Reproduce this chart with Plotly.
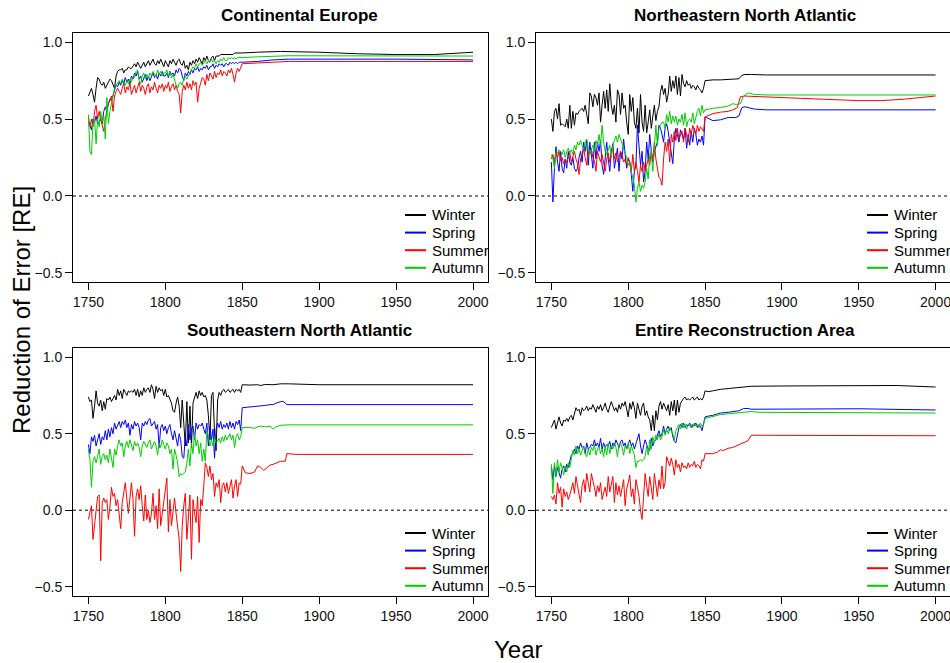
import plotly.graph_objects as go

# ---------------- data ----------------
YEARS_NOISY = list(range(1750, 1851))

# Continental Europe
ce_winter = [0.65, 0.68, 0.70, 0.66, 0.61, 0.70, 0.77, 0.76, 0.73, 0.72,
             0.74, 0.70, 0.72, 0.74, 0.76, 0.75, 0.72, 0.70, 0.78, 0.81,
             0.82, 0.82, 0.83, 0.80, 0.82, 0.82, 0.84, 0.83, 0.83, 0.85,
             0.86, 0.84, 0.87, 0.85, 0.83, 0.85, 0.87, 0.84, 0.86, 0.88,
             0.85, 0.87, 0.89, 0.86, 0.85, 0.88, 0.86, 0.89, 0.87, 0.84,
             0.88, 0.86, 0.84, 0.88, 0.86, 0.89, 0.87, 0.85, 0.88, 0.89,
             0.86, 0.85, 0.88, 0.83, 0.85, 0.82, 0.87, 0.85, 0.88, 0.86,
             0.89, 0.87, 0.90, 0.88, 0.86, 0.90, 0.88, 0.91, 0.88, 0.87,
             0.90, 0.91, 0.88, 0.91, 0.91, 0.91, 0.92, 0.92, 0.92, 0.92,
             0.92, 0.92, 0.92, 0.92, 0.92, 0.93, 0.93, 0.93, 0.93, 0.93,
             0.93]
ce_winter_tail_years = [1860, 1875, 1900, 1925, 1950, 1975, 2000]
ce_winter_tail = [0.935, 0.94, 0.935, 0.925, 0.92, 0.92, 0.935]

ce_spring = [0.48, 0.45, 0.43, 0.50, 0.48, 0.52, 0.47, 0.48, 0.50, 0.47,
             0.55, 0.58, 0.55, 0.60, 0.63, 0.62, 0.66, 0.70, 0.72, 0.71,
             0.74, 0.72, 0.75, 0.73, 0.77, 0.74, 0.76, 0.73, 0.78, 0.76,
             0.80, 0.78, 0.81, 0.76, 0.78, 0.74, 0.77, 0.79, 0.75, 0.78,
             0.75, 0.78, 0.80, 0.77, 0.79, 0.76, 0.80, 0.78, 0.81, 0.78,
             0.78, 0.80, 0.77, 0.81, 0.79, 0.80, 0.78, 0.82, 0.80, 0.83,
             0.82, 0.78, 0.75, 0.80, 0.78, 0.81, 0.79, 0.82, 0.80, 0.83,
             0.82, 0.84, 0.81, 0.83, 0.82, 0.84, 0.83, 0.85, 0.82, 0.84,
             0.84, 0.86, 0.83, 0.85, 0.84, 0.86, 0.85, 0.86, 0.84, 0.86,
             0.86, 0.85, 0.87, 0.86, 0.87, 0.86, 0.87, 0.86, 0.87, 0.87,
             0.87]
ce_spring_tail_years = [1860, 1870, 1880, 1950, 2000]
ce_spring_tail = [0.875, 0.885, 0.89, 0.89, 0.885]

ce_summer = [0.52, 0.45, 0.50, 0.45, 0.55, 0.59, 0.50, 0.55, 0.50, 0.45,
             0.42, 0.50, 0.55, 0.60, 0.62, 0.65, 0.55, 0.65, 0.68, 0.70,
             0.68, 0.66, 0.70, 0.73, 0.67, 0.71, 0.69, 0.74, 0.66, 0.70,
             0.72, 0.67, 0.71, 0.74, 0.68, 0.72, 0.70, 0.66, 0.71, 0.73,
             0.67, 0.71, 0.69, 0.74, 0.70, 0.67, 0.72, 0.70, 0.73, 0.68,
             0.72, 0.70, 0.74, 0.68, 0.71, 0.73, 0.69, 0.72, 0.68, 0.66,
             0.54, 0.68, 0.72, 0.69, 0.74, 0.70, 0.73, 0.69, 0.75, 0.72,
             0.74, 0.61, 0.70, 0.74, 0.77, 0.76, 0.72, 0.79, 0.75, 0.80,
             0.78, 0.76, 0.81, 0.77, 0.80, 0.79, 0.82, 0.78, 0.81, 0.80,
             0.78, 0.82, 0.80, 0.83, 0.79, 0.74, 0.80, 0.83, 0.81, 0.84,
             0.86]
ce_summer_tail_years = [1860, 1870, 1880, 2000]
ce_summer_tail = [0.865, 0.87, 0.875, 0.875]

ce_autumn = [0.53, 0.29, 0.27, 0.48, 0.50, 0.34, 0.50, 0.45, 0.55, 0.48,
             0.52, 0.37, 0.64, 0.47, 0.55, 0.60, 0.65, 0.70, 0.72, 0.74,
             0.75, 0.73, 0.76, 0.74, 0.72, 0.75, 0.73, 0.76, 0.74, 0.77,
             0.77, 0.81, 0.82, 0.75, 0.73, 0.78, 0.80, 0.76, 0.79, 0.77,
             0.80, 0.78, 0.81, 0.79, 0.78, 0.82, 0.79, 0.81, 0.78, 0.80,
             0.80, 0.82, 0.78, 0.81, 0.77, 0.79, 0.75, 0.72, 0.70, 0.73,
             0.74, 0.72, 0.76, 0.78, 0.76, 0.78, 0.80, 0.82, 0.84, 0.83,
             0.86, 0.84, 0.86, 0.87, 0.85, 0.87, 0.88, 0.86, 0.88, 0.87,
             0.89, 0.87, 0.88, 0.86, 0.88, 0.87, 0.89, 0.88, 0.90, 0.88,
             0.88, 0.90, 0.89, 0.90, 0.89, 0.90, 0.89, 0.90, 0.90, 0.90,
             0.90]
ce_autumn_tail_years = [1860, 1870, 1880, 2000]
ce_autumn_tail = [0.905, 0.91, 0.912, 0.91]

# Northeastern North Atlantic
ne_winter = [0.50, 0.42, 0.55, 0.57, 0.50, 0.60, 0.46, 0.47, 0.46, 0.45,
             0.50, 0.44, 0.59, 0.44, 0.55, 0.46, 0.54, 0.53, 0.55, 0.56,
             0.57, 0.55, 0.59, 0.53, 0.47, 0.67, 0.65, 0.58, 0.66, 0.64,
             0.59, 0.67, 0.48, 0.59, 0.68, 0.57, 0.69, 0.55, 0.73, 0.59,
             0.53, 0.59, 0.48, 0.69, 0.66, 0.53, 0.67, 0.57, 0.59, 0.48,
             0.40, 0.66, 0.55, 0.64, 0.48, 0.44, 0.57, 0.41, 0.66, 0.48,
             0.42, 0.59, 0.41, 0.48, 0.56, 0.44, 0.50, 0.59, 0.49, 0.55,
             0.58, 0.68, 0.72, 0.66, 0.70, 0.61, 0.66, 0.78, 0.68, 0.75,
             0.70, 0.78, 0.66, 0.77, 0.65, 0.79, 0.73, 0.71, 0.75, 0.72,
             0.73, 0.70, 0.72, 0.71, 0.69, 0.72, 0.70, 0.69, 0.67, 0.70,
             0.75]
ne_winter_tail_years = [1855, 1860, 1865, 1868, 1870, 1872, 1874, 1876, 1880, 1890, 2000]
ne_winter_tail = [0.755, 0.755, 0.757, 0.76, 0.758, 0.762, 0.785, 0.79, 0.79, 0.787, 0.787]

ne_spring = [0.22, -0.04, 0.18, 0.32, 0.22, 0.16, 0.29, 0.18, 0.15, 0.24,
             0.18, 0.29, 0.22, 0.20, 0.25, 0.18, 0.16, 0.18, 0.25, 0.29,
             0.22, 0.35, 0.29, 0.36, 0.20, 0.35, 0.27, 0.18, 0.35, 0.24,
             0.35, 0.29, 0.36, 0.20, 0.14, 0.27, 0.35, 0.24, 0.16, 0.29,
             0.34, 0.18, 0.24, 0.31, 0.16, 0.29, 0.24, 0.37, 0.27, 0.18,
             0.24, 0.22, 0.14, 0.03, 0.16, 0.20, 0.46, 0.33, 0.20, 0.29,
             0.09, 0.16, 0.35, 0.24, 0.40, 0.29, 0.22, 0.29, 0.33, 0.35,
             0.46, 0.44, 0.40, 0.35, 0.44, 0.47, 0.42, 0.35, 0.29, 0.21,
             0.37, 0.44, 0.40, 0.35, 0.43, 0.40, 0.37, 0.44, 0.31, 0.40,
             0.33, 0.42, 0.35, 0.44, 0.40, 0.33, 0.37, 0.35, 0.39, 0.33,
             0.515]
ne_spring_tail_years = [1855, 1860, 1865, 1870, 1872, 1874, 1876, 1878, 1882, 1890, 2000]
ne_spring_tail = [0.49, 0.495, 0.51, 0.51, 0.52, 0.575, 0.58, 0.575, 0.565, 0.56, 0.56]

ne_summer = [0.24, 0.27, 0.22, 0.28, 0.25, 0.29, 0.23, 0.25, 0.21, 0.24,
             0.22, 0.25, 0.28, 0.22, 0.25, 0.29, 0.24, 0.21, 0.14, 0.24,
             0.27, 0.31, 0.25, 0.20, 0.29, 0.27, 0.31, 0.25, 0.23, 0.16,
             0.29, 0.25, 0.22, 0.27, 0.20, 0.16, 0.24, 0.28, 0.22, 0.29,
             0.31, 0.24, 0.28, 0.22, 0.25, 0.29, 0.27, 0.22, 0.24, 0.20,
             0.25, 0.22, 0.16, 0.27, 0.16, 0.22, 0.16, 0.09, 0.20, 0.16,
             0.22, 0.16, 0.20, 0.24, 0.20, 0.29, 0.24, 0.35, 0.24, 0.18,
             0.12, 0.11, 0.07, 0.24, 0.35, 0.29, 0.37, 0.22, 0.40, 0.35,
             0.42, 0.36, 0.44, 0.37, 0.40, 0.42, 0.35, 0.44, 0.40, 0.35,
             0.44, 0.40, 0.46, 0.42, 0.40, 0.46, 0.42, 0.45, 0.43, 0.42,
             0.515]
ne_summer_tail_years = [1855, 1860, 1865, 1868, 1871, 1873, 1876, 1880, 1900, 1925, 1950, 1965, 1980, 2000]
ne_summer_tail = [0.535, 0.545, 0.55, 0.56, 0.575, 0.645, 0.65, 0.648, 0.64, 0.628, 0.62, 0.62, 0.63, 0.65]

ne_autumn = [0.27, 0.24, 0.18, 0.29, 0.28, 0.30, 0.29, 0.27, 0.30, 0.25,
             0.29, 0.31, 0.28, 0.30, 0.27, 0.33, 0.30, 0.35, 0.33, 0.36,
             0.33, 0.30, 0.35, 0.37, 0.31, 0.27, 0.30, 0.33, 0.29, 0.36,
             0.33, 0.40, 0.33, 0.46, 0.35, 0.29, 0.27, 0.31, 0.33, 0.25,
             0.33, 0.36, 0.39, 0.35, 0.40, 0.37, 0.34, 0.31, 0.29, 0.25,
             0.20, 0.22, 0.16, 0.11, 0.07, -0.04, 0.05, 0.09, 0.03, 0.07,
             0.05, 0.09, 0.18, 0.11, 0.27, 0.29, 0.16, 0.31, 0.46, 0.33,
             0.44, 0.46, 0.48, 0.48, 0.44, 0.53, 0.48, 0.55, 0.47, 0.52,
             0.48, 0.52, 0.46, 0.50, 0.48, 0.53, 0.46, 0.54, 0.45, 0.49,
             0.50, 0.48, 0.54, 0.47, 0.52, 0.55, 0.57, 0.52, 0.59, 0.54,
             0.56]
ne_autumn_tail_years = [1855, 1860, 1865, 1868, 1870, 1873, 1875, 1878, 1882, 1890, 2000]
ne_autumn_tail = [0.57, 0.575, 0.585, 0.60, 0.595, 0.60, 0.65, 0.67, 0.66, 0.657, 0.657]

# Southeastern North Atlantic
se_winter = [0.74, 0.71, 0.72, 0.60, 0.68, 0.78, 0.70, 0.68, 0.72, 0.65,
             0.71, 0.66, 0.73, 0.72, 0.74, 0.71, 0.73, 0.75, 0.72, 0.79,
             0.75, 0.78, 0.73, 0.79, 0.77, 0.75, 0.78, 0.77, 0.78, 0.77,
             0.79, 0.75, 0.79, 0.74, 0.78, 0.75, 0.80, 0.77, 0.79, 0.80,
             0.77, 0.82, 0.79, 0.73, 0.81, 0.77, 0.80, 0.78, 0.79, 0.75,
             0.79, 0.74, 0.75, 0.72, 0.70, 0.65, 0.64, 0.70, 0.74, 0.68,
             0.54, 0.72, 0.57, 0.42, 0.71, 0.44, 0.68, 0.41, 0.70, 0.73,
             0.77, 0.73, 0.78, 0.75, 0.77, 0.74, 0.75, 0.72, 0.62, 0.46,
             0.75, 0.77, 0.50, 0.39, 0.72, 0.77, 0.75, 0.78, 0.79, 0.77,
             0.78, 0.79, 0.77, 0.78, 0.79, 0.77, 0.79, 0.78, 0.79, 0.77,
             0.82]
se_winter_tail_years = [1855, 1860, 1862, 1865, 1870, 1875, 1880, 1900, 2000]
se_winter_tail = [0.818, 0.82, 0.815, 0.822, 0.82, 0.826, 0.826, 0.82, 0.82]

se_spring = [0.43, 0.37, 0.48, 0.45, 0.49, 0.42, 0.46, 0.50, 0.43, 0.48,
             0.46, 0.52, 0.46, 0.53, 0.48, 0.54, 0.50, 0.57, 0.53, 0.56,
             0.58, 0.54, 0.58, 0.56, 0.59, 0.54, 0.57, 0.49, 0.56, 0.53,
             0.58, 0.55, 0.57, 0.54, 0.46, 0.57, 0.55, 0.58, 0.56, 0.59,
             0.60, 0.55, 0.57, 0.58, 0.53, 0.56, 0.41, 0.54, 0.56, 0.52,
             0.55, 0.50, 0.54, 0.56, 0.50, 0.46, 0.52, 0.48, 0.42, 0.50,
             0.46, 0.35, 0.34, 0.48, 0.42, 0.56, 0.46, 0.53, 0.55, 0.46,
             0.57, 0.53, 0.56, 0.55, 0.57, 0.53, 0.50, 0.57, 0.42, 0.55,
             0.46, 0.53, 0.34, 0.53, 0.57, 0.54, 0.58, 0.53, 0.56, 0.54,
             0.57, 0.53, 0.58, 0.54, 0.57, 0.53, 0.58, 0.56, 0.59, 0.52,
             0.67]
se_spring_tail_years = [1855, 1860, 1862, 1865, 1868, 1870, 1872, 1875, 1877, 1879, 1900, 2000]
se_spring_tail = [0.675, 0.678, 0.68, 0.685, 0.69, 0.69, 0.70, 0.71, 0.71, 0.69, 0.69, 0.69]

se_summer = [-0.06, -0.02, 0.03, -0.19, -0.10, 0.00, 0.09, 0.10, -0.33, 0.05,
             0.08, 0.05, 0.07, -0.06, 0.02, 0.15, 0.09, 0.11, 0.03, 0.07,
             -0.02, -0.12, 0.05, 0.11, 0.18, 0.07, -0.02, 0.08, 0.18, 0.07,
             -0.17, 0.09, 0.14, 0.07, 0.16, 0.03, -0.07, 0.10, -0.06, 0.00,
             -0.08, -0.02, 0.11, -0.06, 0.03, -0.12, 0.14, -0.10, -0.02, 0.05,
             0.16, 0.21, -0.14, 0.07, -0.10, -0.02, 0.08, -0.02, -0.10, -0.19,
             -0.40, -0.10, 0.03, 0.11, -0.19, -0.02, 0.10, -0.32, 0.07, -0.02,
             -0.08, 0.09, -0.21, 0.07, 0.03, 0.16, 0.31, 0.28, 0.22, 0.29,
             0.20, 0.24, 0.09, 0.18, 0.15, 0.20, 0.05, 0.16, 0.18, 0.12,
             0.18, 0.11, 0.15, 0.20, 0.08, 0.16, 0.20, 0.09, 0.18, 0.17,
             0.29]
se_summer_tail_years = [1852, 1855, 1858, 1860, 1862, 1864, 1866, 1868, 1870, 1872, 1875, 1878, 1879, 1885, 2000]
se_summer_tail = [0.245, 0.24, 0.25, 0.29, 0.28, 0.26, 0.28, 0.295, 0.30, 0.31, 0.32, 0.32, 0.37, 0.365, 0.365]

se_autumn = [0.40, 0.33, 0.15, 0.32, 0.35, 0.31, 0.35, 0.40, 0.30, 0.35,
             0.37, 0.33, 0.36, 0.31, 0.40, 0.33, 0.28, 0.40, 0.36, 0.42,
             0.46, 0.42, 0.44, 0.35, 0.42, 0.45, 0.41, 0.46, 0.42, 0.39,
             0.45, 0.42, 0.44, 0.41, 0.35, 0.42, 0.45, 0.43, 0.41, 0.44,
             0.46, 0.40, 0.43, 0.45, 0.42, 0.36, 0.44, 0.41, 0.46, 0.43,
             0.40, 0.44, 0.42, 0.37, 0.40, 0.27, 0.40, 0.36, 0.31, 0.22,
             0.24, 0.23, 0.24, 0.25, 0.31, 0.40, 0.29, 0.44, 0.37, 0.50,
             0.42, 0.46, 0.37, 0.44, 0.32, 0.40, 0.32, 0.52, 0.48, 0.42,
             0.46, 0.42, 0.48, 0.44, 0.45, 0.47, 0.44, 0.48, 0.45, 0.49,
             0.46, 0.48, 0.50, 0.46, 0.49, 0.41, 0.48, 0.50, 0.46, 0.48,
             0.54]
se_autumn_tail_years = [1855, 1858, 1860, 1862, 1865, 1868, 1870, 1872, 1875, 1880, 2000]
se_autumn_tail = [0.54, 0.535, 0.545, 0.55, 0.545, 0.55, 0.53, 0.545, 0.555, 0.558, 0.558]

# Entire Reconstruction Area
era_winter = [0.54, 0.56, 0.59, 0.53, 0.58, 0.61, 0.57, 0.55, 0.59, 0.58,
              0.60, 0.58, 0.61, 0.62, 0.59, 0.64, 0.67, 0.65, 0.66, 0.62,
              0.67, 0.65, 0.66, 0.68, 0.65, 0.67, 0.66, 0.69, 0.66, 0.64,
              0.68, 0.66, 0.69, 0.65, 0.67, 0.70, 0.66, 0.64, 0.68, 0.71,
              0.68, 0.65, 0.67, 0.64, 0.69, 0.66, 0.70, 0.68, 0.71, 0.67,
              0.61, 0.70, 0.66, 0.71, 0.67, 0.60, 0.70, 0.66, 0.62, 0.68,
              0.70, 0.62, 0.65, 0.61, 0.59, 0.52, 0.62, 0.52, 0.65, 0.59,
              0.68, 0.71, 0.66, 0.70, 0.68, 0.65, 0.69, 0.62, 0.71, 0.65,
              0.72, 0.62, 0.72, 0.64, 0.70, 0.72, 0.73, 0.74, 0.72, 0.73,
              0.72, 0.73, 0.74, 0.72, 0.73, 0.74, 0.72, 0.73, 0.72, 0.74,
              0.78]
era_winter_tail_years = [1852, 1855, 1860, 1865, 1870, 1875, 1880, 1900, 1950, 1975, 2000]
era_winter_tail = [0.775, 0.78, 0.79, 0.795, 0.80, 0.805, 0.81, 0.812, 0.815, 0.815, 0.805]

era_spring = [0.29, 0.20, 0.29, 0.22, 0.28, 0.24, 0.21, 0.27, 0.29, 0.25,
              0.30, 0.28, 0.32, 0.36, 0.37, 0.40, 0.37, 0.42, 0.40, 0.44,
              0.41, 0.42, 0.37, 0.44, 0.40, 0.41, 0.43, 0.42, 0.46, 0.42,
              0.44, 0.41, 0.47, 0.40, 0.44, 0.41, 0.43, 0.42, 0.45, 0.40,
              0.44, 0.42, 0.46, 0.43, 0.41, 0.45, 0.46, 0.42, 0.44, 0.40,
              0.43, 0.46, 0.42, 0.44, 0.40, 0.44, 0.47, 0.50, 0.42, 0.37,
              0.42, 0.46, 0.43, 0.40, 0.39, 0.47, 0.42, 0.45, 0.46, 0.49,
              0.52, 0.48, 0.50, 0.55, 0.50, 0.53, 0.55, 0.52, 0.54, 0.48,
              0.45, 0.44, 0.49, 0.54, 0.56, 0.54, 0.57, 0.54, 0.56, 0.55,
              0.57, 0.54, 0.56, 0.55, 0.57, 0.54, 0.56, 0.55, 0.52, 0.57,
              0.61]
era_spring_tail_years = [1852, 1855, 1858, 1860, 1865, 1868, 1872, 1875, 1878, 1880, 1900, 1950, 2000]
era_spring_tail = [0.615, 0.62, 0.63, 0.635, 0.64, 0.645, 0.65, 0.665, 0.665, 0.66, 0.66, 0.663, 0.655]

era_summer = [0.09, 0.07, 0.10, 0.04, 0.18, 0.11, 0.15, 0.02, 0.14, 0.09,
              0.12, 0.07, 0.10, 0.15, 0.18, 0.11, 0.22, 0.16, 0.09, 0.05,
              0.16, 0.20, 0.12, 0.24, 0.18, 0.12, 0.24, 0.20, 0.15, 0.09,
              0.16, 0.12, 0.18, 0.07, 0.11, 0.15, 0.09, 0.22, 0.12, 0.16,
              0.22, 0.05, 0.18, 0.10, 0.16, 0.09, 0.15, 0.20, 0.03, 0.14,
              0.18, 0.23, 0.09, 0.14, 0.04, 0.20, 0.15, 0.09, 0.00, -0.06,
              0.09, 0.24, 0.16, 0.09, 0.22, 0.14, 0.07, 0.24, 0.16, 0.09,
              0.20, 0.14, 0.29, 0.14, 0.18, 0.35, 0.32, 0.29, 0.34, 0.30,
              0.23, 0.33, 0.28, 0.30, 0.25, 0.31, 0.28, 0.29, 0.27, 0.31,
              0.28, 0.30, 0.29, 0.32, 0.28, 0.30, 0.29, 0.27, 0.33, 0.32,
              0.37]
era_summer_tail_years = [1852, 1855, 1858, 1860, 1862, 1865, 1868, 1870, 1872, 1875, 1878, 1880, 1885, 2000]
era_summer_tail = [0.37, 0.37, 0.38, 0.395, 0.39, 0.405, 0.41, 0.42, 0.43, 0.44, 0.455, 0.49, 0.49, 0.487]

era_autumn = [0.30, 0.11, 0.31, 0.22, 0.33, 0.25, 0.31, 0.28, 0.23, 0.29,
              0.25, 0.31, 0.28, 0.35, 0.39, 0.36, 0.42, 0.37, 0.40, 0.36,
              0.40, 0.42, 0.37, 0.35, 0.40, 0.36, 0.41, 0.39, 0.43, 0.36,
              0.40, 0.42, 0.37, 0.40, 0.35, 0.42, 0.36, 0.44, 0.37, 0.42,
              0.40, 0.44, 0.41, 0.35, 0.42, 0.44, 0.41, 0.36, 0.42, 0.40,
              0.44, 0.37, 0.42, 0.39, 0.36, 0.28, 0.32, 0.32, 0.33, 0.32,
              0.33, 0.35, 0.42, 0.36, 0.46, 0.40, 0.48, 0.44, 0.49, 0.46,
              0.50, 0.46, 0.48, 0.53, 0.49, 0.53, 0.50, 0.54, 0.52, 0.50,
              0.46, 0.52, 0.54, 0.56, 0.53, 0.57, 0.54, 0.56, 0.53, 0.56,
              0.55, 0.56, 0.54, 0.57, 0.55, 0.56, 0.54, 0.57, 0.55, 0.56,
              0.60]
era_autumn_tail_years = [1852, 1855, 1858, 1860, 1865, 1870, 1875, 1880, 1885, 2000]
era_autumn_tail = [0.605, 0.61, 0.62, 0.625, 0.63, 0.635, 0.64, 0.645, 0.64, 0.635]

SEASONS = ["Winter", "Spring", "Summer", "Autumn"]
COLORS = ["#000000", "#0000FF", "#FF0000", "#00CD00"]
PANEL_TITLES = ["Continental Europe", "Northeastern North Atlantic",
                "Southeastern North Atlantic", "Entire Reconstruction Area"]
X_TICKS = [1750, 1800, 1850, 1900, 1950, 2000]
Y_TICKS = [-0.5, 0.0, 0.5, 1.0]

panel_series = [
    [(ce_winter, ce_winter_tail_years, ce_winter_tail),
     (ce_spring, ce_spring_tail_years, ce_spring_tail),
     (ce_summer, ce_summer_tail_years, ce_summer_tail),
     (ce_autumn, ce_autumn_tail_years, ce_autumn_tail)],
    [(ne_winter, ne_winter_tail_years, ne_winter_tail),
     (ne_spring, ne_spring_tail_years, ne_spring_tail),
     (ne_summer, ne_summer_tail_years, ne_summer_tail),
     (ne_autumn, ne_autumn_tail_years, ne_autumn_tail)],
    [(se_winter, se_winter_tail_years, se_winter_tail),
     (se_spring, se_spring_tail_years, se_spring_tail),
     (se_summer, se_summer_tail_years, se_summer_tail),
     (se_autumn, se_autumn_tail_years, se_autumn_tail)],
    [(era_winter, era_winter_tail_years, era_winter_tail),
     (era_spring, era_spring_tail_years, era_spring_tail),
     (era_summer, era_summer_tail_years, era_summer_tail),
     (era_autumn, era_autumn_tail_years, era_autumn_tail)],
]

# ---------------- layout geometry ----------------
W, H = 950, 663
FONT = "Liberation Sans, Arial, Helvetica, sans-serif"


def fx(px):
    return px / W


def fy(py):
    return 1 - py / H


# panel pixel boxes: (left, right, top, bottom)
boxes = [(73, 488.4, 33, 282), (536, 950, 33, 282),
         (73, 488.4, 348, 596), (536, 950, 348, 596)]
x_ranges = [[1740, 2010], [1740, 1740 + (950 - 536) / 1.537],
            [1740, 2010], [1740, 1740 + (950 - 536) / 1.537]]
title_pos = [(299, 15), (745, 15), (299, 330), (745, 330)]
legend_pos = [(405, 215), (867, 215), (405, 533), (867, 533)]
LEG_STEP = 17.6

fig = go.Figure()
layout = dict(width=W, height=H, margin=dict(l=0, r=0, t=0, b=0),
              paper_bgcolor="white", plot_bgcolor="white", showlegend=False,
              font=dict(family=FONT, color="#000"))
shapes = []
annotations = []

for i in range(4):
    xa = "x" if i == 0 else f"x{i+1}"
    ya = "y" if i == 0 else f"y{i+1}"
    for (noisy, tail_years, tail), name, col in zip(panel_series[i], SEASONS, COLORS):
        fig.add_trace(go.Scatter(
            x=YEARS_NOISY + tail_years, y=noisy + tail, mode="lines", name=name,
            line=dict(color=col, width=1), xaxis=xa, yaxis=ya))
    l, r, t, b = boxes[i]
    right_panel = i in (1, 3)
    layout["xaxis" if i == 0 else f"xaxis{i+1}"] = dict(
        domain=[fx(l), min(1.0, fx(r))], range=x_ranges[i], anchor=ya,
        tickvals=X_TICKS, ticks="outside", ticklen=7, tickwidth=1, tickcolor="#000",
        showline=True, linecolor="#000", linewidth=1, mirror=True,
        showgrid=False, zeroline=False, ticklabeloverflow="allow",
        tickfont=dict(family=FONT, size=14, color="#111"))
    layout["yaxis" if i == 0 else f"yaxis{i+1}"] = dict(
        domain=[fy(b), fy(t)], range=[-0.56, 1.06], anchor=xa,
        tickvals=Y_TICKS, tickformat=".1f", ticks="outside", ticklen=7, tickwidth=1,
        tickcolor="#000", showline=True, linecolor="#000", linewidth=1,
        mirror=(not right_panel), showgrid=False, zeroline=False,
        tickfont=dict(family=FONT, size=14, color="#111"))
    # dotted zero reference line
    shapes.append(dict(type="line", xref=f"{xa} domain", yref=ya, x0=0, x1=1, y0=0, y1=0,
                       line=dict(color="#555", width=1.5, dash="dot")))
    # panel title
    tx, ty = title_pos[i]
    annotations.append(dict(text=f"<b>{PANEL_TITLES[i]}</b>", xref="paper", yref="paper",
                            x=fx(tx), y=fy(ty), showarrow=False, xanchor="center",
                            yanchor="middle", font=dict(family=FONT, size=17, color="#000")))
    # legend
    lx, ly = legend_pos[i]
    for k, (name, col) in enumerate(zip(SEASONS, COLORS)):
        yy = ly + k * LEG_STEP
        shapes.append(dict(type="line", xref="paper", yref="paper",
                           x0=fx(lx), x1=fx(lx + 21), y0=fy(yy), y1=fy(yy),
                           line=dict(color=col, width=2)))
        annotations.append(dict(text=name, xref="paper", yref="paper",
                                x=fx(lx + 25), y=fy(yy), showarrow=False,
                                xanchor="left", yanchor="middle",
                                font=dict(family=FONT, size=15, color="#000")))

annotations.append(dict(text="Reduction of Error [RE]", xref="paper", yref="paper",
                        x=fx(21), y=fy(310), showarrow=False, textangle=-90,
                        xanchor="center", yanchor="middle",
                        font=dict(family=FONT, size=24, color="#000")))
annotations.append(dict(text="Year", xref="paper", yref="paper",
                        x=fx(518), y=fy(649), showarrow=False,
                        xanchor="center", yanchor="middle",
                        font=dict(family=FONT, size=24, color="#000")))

layout["shapes"] = shapes
layout["annotations"] = annotations
fig.update_layout(**layout)
fig.write_html(
    "out.html",
    config={"displayModeBar": False},
    post_script="document.body.style.margin='0';document.body.style.overflow='hidden';",
)
